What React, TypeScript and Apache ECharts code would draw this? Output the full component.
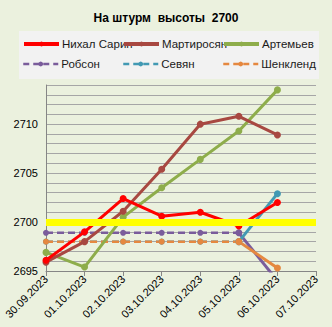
import React, { useEffect, useRef } from "react";
import * as echarts from "echarts";

const dates = ["30.09.2023", "01.10.2023", "02.10.2023", "03.10.2023", "04.10.2023", "05.10.2023", "06.10.2023", "07.10.2023"];
const sarin = [2696.1, 2699.0, 2702.4, 2700.6, 2701.0, 2699.6, 2702.0];
const martirosyan = [2695.9, 2698.0, 2701.1, 2705.4, 2710.0, 2710.8, 2708.9];
const artemyev = [2696.9, 2695.4, 2700.5, 2703.5, 2706.4, 2709.3, 2713.5];
const robson = [2698.9, 2698.9, 2698.9, 2698.9, 2698.9, 2698.9, 2694.0];
const sevyan = [2698.0, 2698.0, 2698.0, 2698.0, 2698.0, 2698.0, 2702.9];
const shenklend = [2698.0, 2698.0, 2698.0, 2698.0, 2698.0, 2698.0, 2695.3];
const target = 2700;
const yTicks = [2695, 2700, 2705, 2710];

const FONT = "Liberation Sans";

export default function App() {
  const ref = useRef<HTMLDivElement>(null);
  useEffect(() => {
    const chart = echarts.init(ref.current!, undefined, { renderer: "svg" });
    const solid = (name: string, data: number[], color: string, z = 3) => ({
      name,
      type: "line",
      data,
      z,
      symbol: "circle",
      symbolSize: 7,
      lineStyle: { color, width: 3 },
      itemStyle: { color },
    });
    const dashed = (name: string, data: number[], color: string) => [
      {
        name,
        type: "line",
        data: data.slice(0, 6),
        z: 2,
        symbol: "circle",
        symbolSize: 6,
        lineStyle: { color, width: 2.5, type: [7, 4] },
        itemStyle: { color },
      },
      {
        name: name + "_tail",
        type: "line",
        data: data.map((v, i) => (i >= 5 ? v : null)),
        z: 2,
        symbol: "circle",
        symbolSize: 7,
        showSymbol: true,
        lineStyle: { color, width: 3 },
        itemStyle: { color },
      },
    ];
    const legendItem = (name: string, left: number, top: number, dash: boolean) => ({
      data: [name],
      left,
      top,
      itemWidth: 35,
      itemHeight: 6,
      itemGap: 0,
      padding: 0,
      lineStyle: dash ? { width: 2.5, type: [6, 4] } : { width: 4 },
      textStyle: { fontFamily: FONT, fontSize: 11.5, color: "#1a1a1a", padding: [0, 0, 0, -2] },
    });
    chart.setOption({
      animation: false,
      backgroundColor: "#EBF1DE",
      title: {
        text: "На штурм  высоты  2700",
        left: "center",
        top: 7,
        textStyle: { fontFamily: FONT, fontSize: 12, fontWeight: "bold", color: "#000" },
      },
      graphic: [
        { type: "rect", shape: { x: 19, y: 31, width: 300, height: 48 }, style: { fill: "#F2F2F2" }, z: -1 },
      ],
      legend: [
        legendItem("Нихал Сарин", 22, 38, false),
        legendItem("Мартиросян", 122, 38, false),
        legendItem("Артемьев", 222, 38, false),
        legendItem("Робсон", 22, 58, true),
        legendItem("Севян", 122, 58, true),
        legendItem("Шенкленд", 222, 58, true),
      ],
      grid: { left: 46, right: 16, top: 85, bottom: 56 },
      xAxis: {
        type: "category",
        data: dates,
        boundaryGap: false,
        axisLine: { lineStyle: { color: "#868686" } },
        axisTick: { show: true, alignWithLabel: true, length: 5, lineStyle: { color: "#868686" } },
        axisLabel: { rotate: 45, fontFamily: FONT, fontSize: 11, color: "#000", margin: 6, interval: 0 },
        splitLine: { show: false },
      },
      yAxis: {
        type: "value",
        min: 2695,
        max: 2714,
        interval: 1,
        axisLine: { show: true, lineStyle: { color: "#868686" } },
        axisTick: { show: false },
        axisLabel: {
          fontFamily: FONT,
          fontSize: 11,
          color: "#000",
          margin: 8,
          formatter: (v: number) => (yTicks.includes(v) ? String(v) : ""),
        },
        splitLine: { lineStyle: { color: "#A6A6A6", width: 1 } },
      },
      series: [
        ...dashed("Робсон", robson, "#7A5C9B"),
        ...dashed("Севян", sevyan, "#4299B3"),
        ...dashed("Шенкленд", shenklend, "#E58840"),
        solid("Артемьев", artemyev, "#8EAD4B"),
        solid("Мартиросян", martirosyan, "#A84841"),
        solid("Нихал Сарин", sarin, "#FF0000", 4),
        {
          name: "target",
          type: "line",
          data: [],
          z: 10,
          markLine: {
            silent: true,
            symbol: ["none", "none"],
            label: { show: false },
            lineStyle: { color: "#FFFF00", width: 7, type: "solid" },
            data: [{ yAxis: target }],
          },
        },
      ],
    });
    return () => chart.dispose();
  }, []);
  return <div ref={ref} style={{ position: "fixed", left: 0, top: 0, width: 332, height: 327 }} />;
}
